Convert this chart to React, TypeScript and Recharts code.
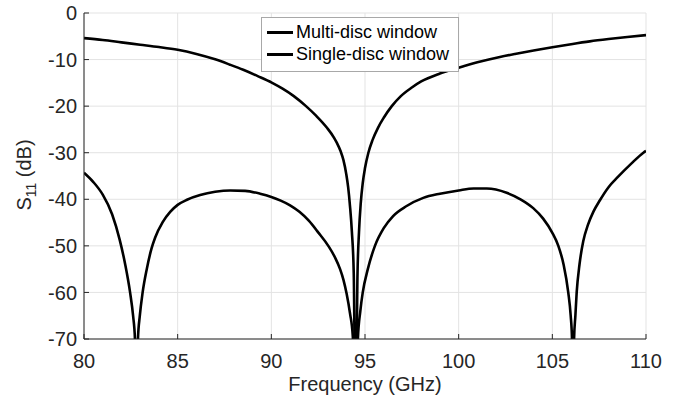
import { LineChart, Line, XAxis, YAxis, CartesianGrid, Legend } from "recharts"

// frequency axis (GHz) and S11 ticks
const freqTicks = [80, 85, 90, 95, 100, 105, 110]
const s11Ticks = [0, -10, -20, -30, -40, -50, -60, -70]

// multi-disc window: three reflection zeros
const multiFreq = [
    80, 80.5, 81, 81.5, 81.9, 82.2, 82.46, 82.62, 82.72, 82.8, 82.88, 82.98, 83.13, 83.35, 83.61, 83.8, 84.2,
    84.6, 85, 85.5, 86.2, 87, 87.8, 88.6, 89.4, 90, 90.5, 91, 91.5, 92, 92.5, 93.04, 93.4, 93.67, 93.85, 94.02,
    94.2, 94.35, 94.5, 94.62, 94.75, 94.88, 95.15, 95.53, 96, 96.5, 97.2, 98.11, 99, 100, 100.8, 101.5,
    102.56, 103.3, 103.98, 104.5, 105, 105.32, 105.6, 105.85, 105.98, 106.05, 106.1, 106.16, 106.23, 106.3,
    106.45, 106.65, 106.9, 107.2, 107.54, 108, 108.5, 109.2, 109.86, 110,
]
const multiS11 = [
    -34.3, -36.3, -39, -43.2, -48.6, -54, -60, -65, -70, -90, -70, -65, -60, -55, -50.5, -48.2, -44.9,
    -42.7, -41.2, -40.1, -39.1, -38.4, -38.1, -38.2, -38.8, -39.5, -40.3, -41.3, -42.7, -44.6, -47.1, -50, -52.5, -55, -57.3, -60.3,
    -64.5, -69.5, -90, -70, -64, -60, -55, -50, -46.2, -43.6, -41.5, -39.7, -38.8, -38.1, -37.7, -37.7,
    -38.6, -40, -41.9, -44.1, -47.2, -50, -54, -60, -65, -70, -90, -70, -65, -60,
    -54, -49, -45.5, -42.6, -40.2, -37.4, -35.2, -32.4, -30, -29.6,
]

// single-disc window: one reflection zero
const singleFreq = [
    80, 81, 82, 83, 84, 85, 86, 87, 87.79, 88.5, 89.3, 90.02, 90.6, 91.2, 91.85, 92.4, 92.96, 93.35, 93.5,
    93.7, 93.85, 94, 94.1, 94.2, 94.3, 94.4, 94.5, 94.6, 94.68, 94.77, 94.88, 95, 95.18, 95.4, 95.7, 96,
    96.43, 96.9, 97.5, 98, 99, 100, 101, 102.2, 103, 104, 105, 106, 107, 108, 109, 110,
]
const singleS11 = [
    -5.4, -5.8, -6.3, -6.8, -7.3, -7.9, -8.8, -9.95, -11.1, -12.2, -13.6, -14.95, -16.25, -17.85, -20, -22.1, -24.6, -26.8, -27.9,
    -29.7, -31.6, -34.6, -37.4, -41.5, -47, -56, -90, -56, -47, -41, -36.5, -33.3, -30, -27.3, -24.6, -22.5,
    -20, -17.9, -16, -14.7, -13, -11.75, -10.6, -9.45, -8.8, -8.05, -7.35, -6.7, -6.1, -5.6, -5.15, -4.75,
]

const seriesNames = ["Multi-disc window", "Single-disc window"]

const multiData = multiFreq.map((f, i) => ({ f, s11: multiS11[i] }))
const singleData = singleFreq.map((f, i) => ({ f, s11: singleS11[i] }))

const FONT = "'Liberation Sans', Arial, sans-serif"
const INK = "#262626"

const YLabel = () => (
    <text
        x={0}
        y={0}
        transform="translate(31, 175) rotate(-90)"
        textAnchor="middle"
        fontFamily={FONT}
        fontSize={20}
        fill={INK}
    >
        S<tspan fontSize={14} dy={5}>11</tspan><tspan dy={-5}> (dB)</tspan>
    </text>
)

const LegendBox = () => (
    <div
        style={{
            width: 196,
            height: 50,
            border: "1px solid #a8a8a8",
            background: "#fff",
            fontFamily: FONT,
            fontSize: 18,
            color: "#000",
            paddingTop: 3,
            boxSizing: "content-box",
        }}
    >
        {seriesNames.map((name) => (
            <div key={name} style={{ display: "flex", alignItems: "center", height: 22, whiteSpace: "nowrap" }}>
                <span style={{ display: "inline-block", width: 26, height: 3, background: "#000", marginLeft: 5, marginRight: 3 }} />
                <span>{name}</span>
            </div>
        ))}
    </div>
)

export default function App() {
    return (
        <div style={{ position: "absolute", left: 0, top: 0, background: "#fff" }}>
            <LineChart width={683} height={397} margin={{ top: 13, right: 37, bottom: 0, left: 24 }}>
                <CartesianGrid stroke="#e3e3e3" strokeWidth={1} />
                <XAxis
                    type="number"
                    dataKey="f"
                    domain={[80, 110]}
                    ticks={freqTicks}
                    allowDataOverflow
                    height={58}
                    stroke={INK}
                    tickSize={-5}
                    tickMargin={20}
                    tick={{ fill: INK, fontSize: 20, fontFamily: FONT }}
                    label={{ value: "Frequency (GHz)", position: "insideBottom", offset: 6, fill: INK, fontSize: 20, fontFamily: FONT }}
                />
                <XAxis
                    xAxisId="top"
                    orientation="top"
                    type="number"
                    domain={[80, 110]}
                    ticks={freqTicks}
                    allowDataOverflow
                    height={0}
                    stroke={INK}
                    tickSize={-5}
                    tick={false}
                />
                <YAxis
                    type="number"
                    domain={[-70, 0]}
                    ticks={s11Ticks}
                    allowDataOverflow
                    width={60}
                    stroke={INK}
                    tickSize={-5}
                    tickMargin={12}
                    tick={{ fill: INK, fontSize: 20, fontFamily: FONT }}
                    label={<YLabel />}
                />
                <YAxis
                    yAxisId="right"
                    orientation="right"
                    type="number"
                    domain={[-70, 0]}
                    ticks={s11Ticks}
                    allowDataOverflow
                    width={0}
                    stroke={INK}
                    tickSize={-5}
                    tick={false}
                />
                <Legend
                    verticalAlign="middle"
                    content={<LegendBox />}
                    wrapperStyle={{ left: 261, top: 17, width: 198, height: 52 }}
                />
                <Line
                    data={multiData}
                    dataKey="s11"
                    name={seriesNames[0]}
                    type="monotone"
                    stroke="#000"
                    strokeWidth={2.6}
                    dot={false}
                    isAnimationActive={false}
                />
                <Line
                    data={singleData}
                    dataKey="s11"
                    name={seriesNames[1]}
                    type="monotone"
                    stroke="#000"
                    strokeWidth={2.6}
                    dot={false}
                    isAnimationActive={false}
                />
            </LineChart>
        </div>
    )
}
